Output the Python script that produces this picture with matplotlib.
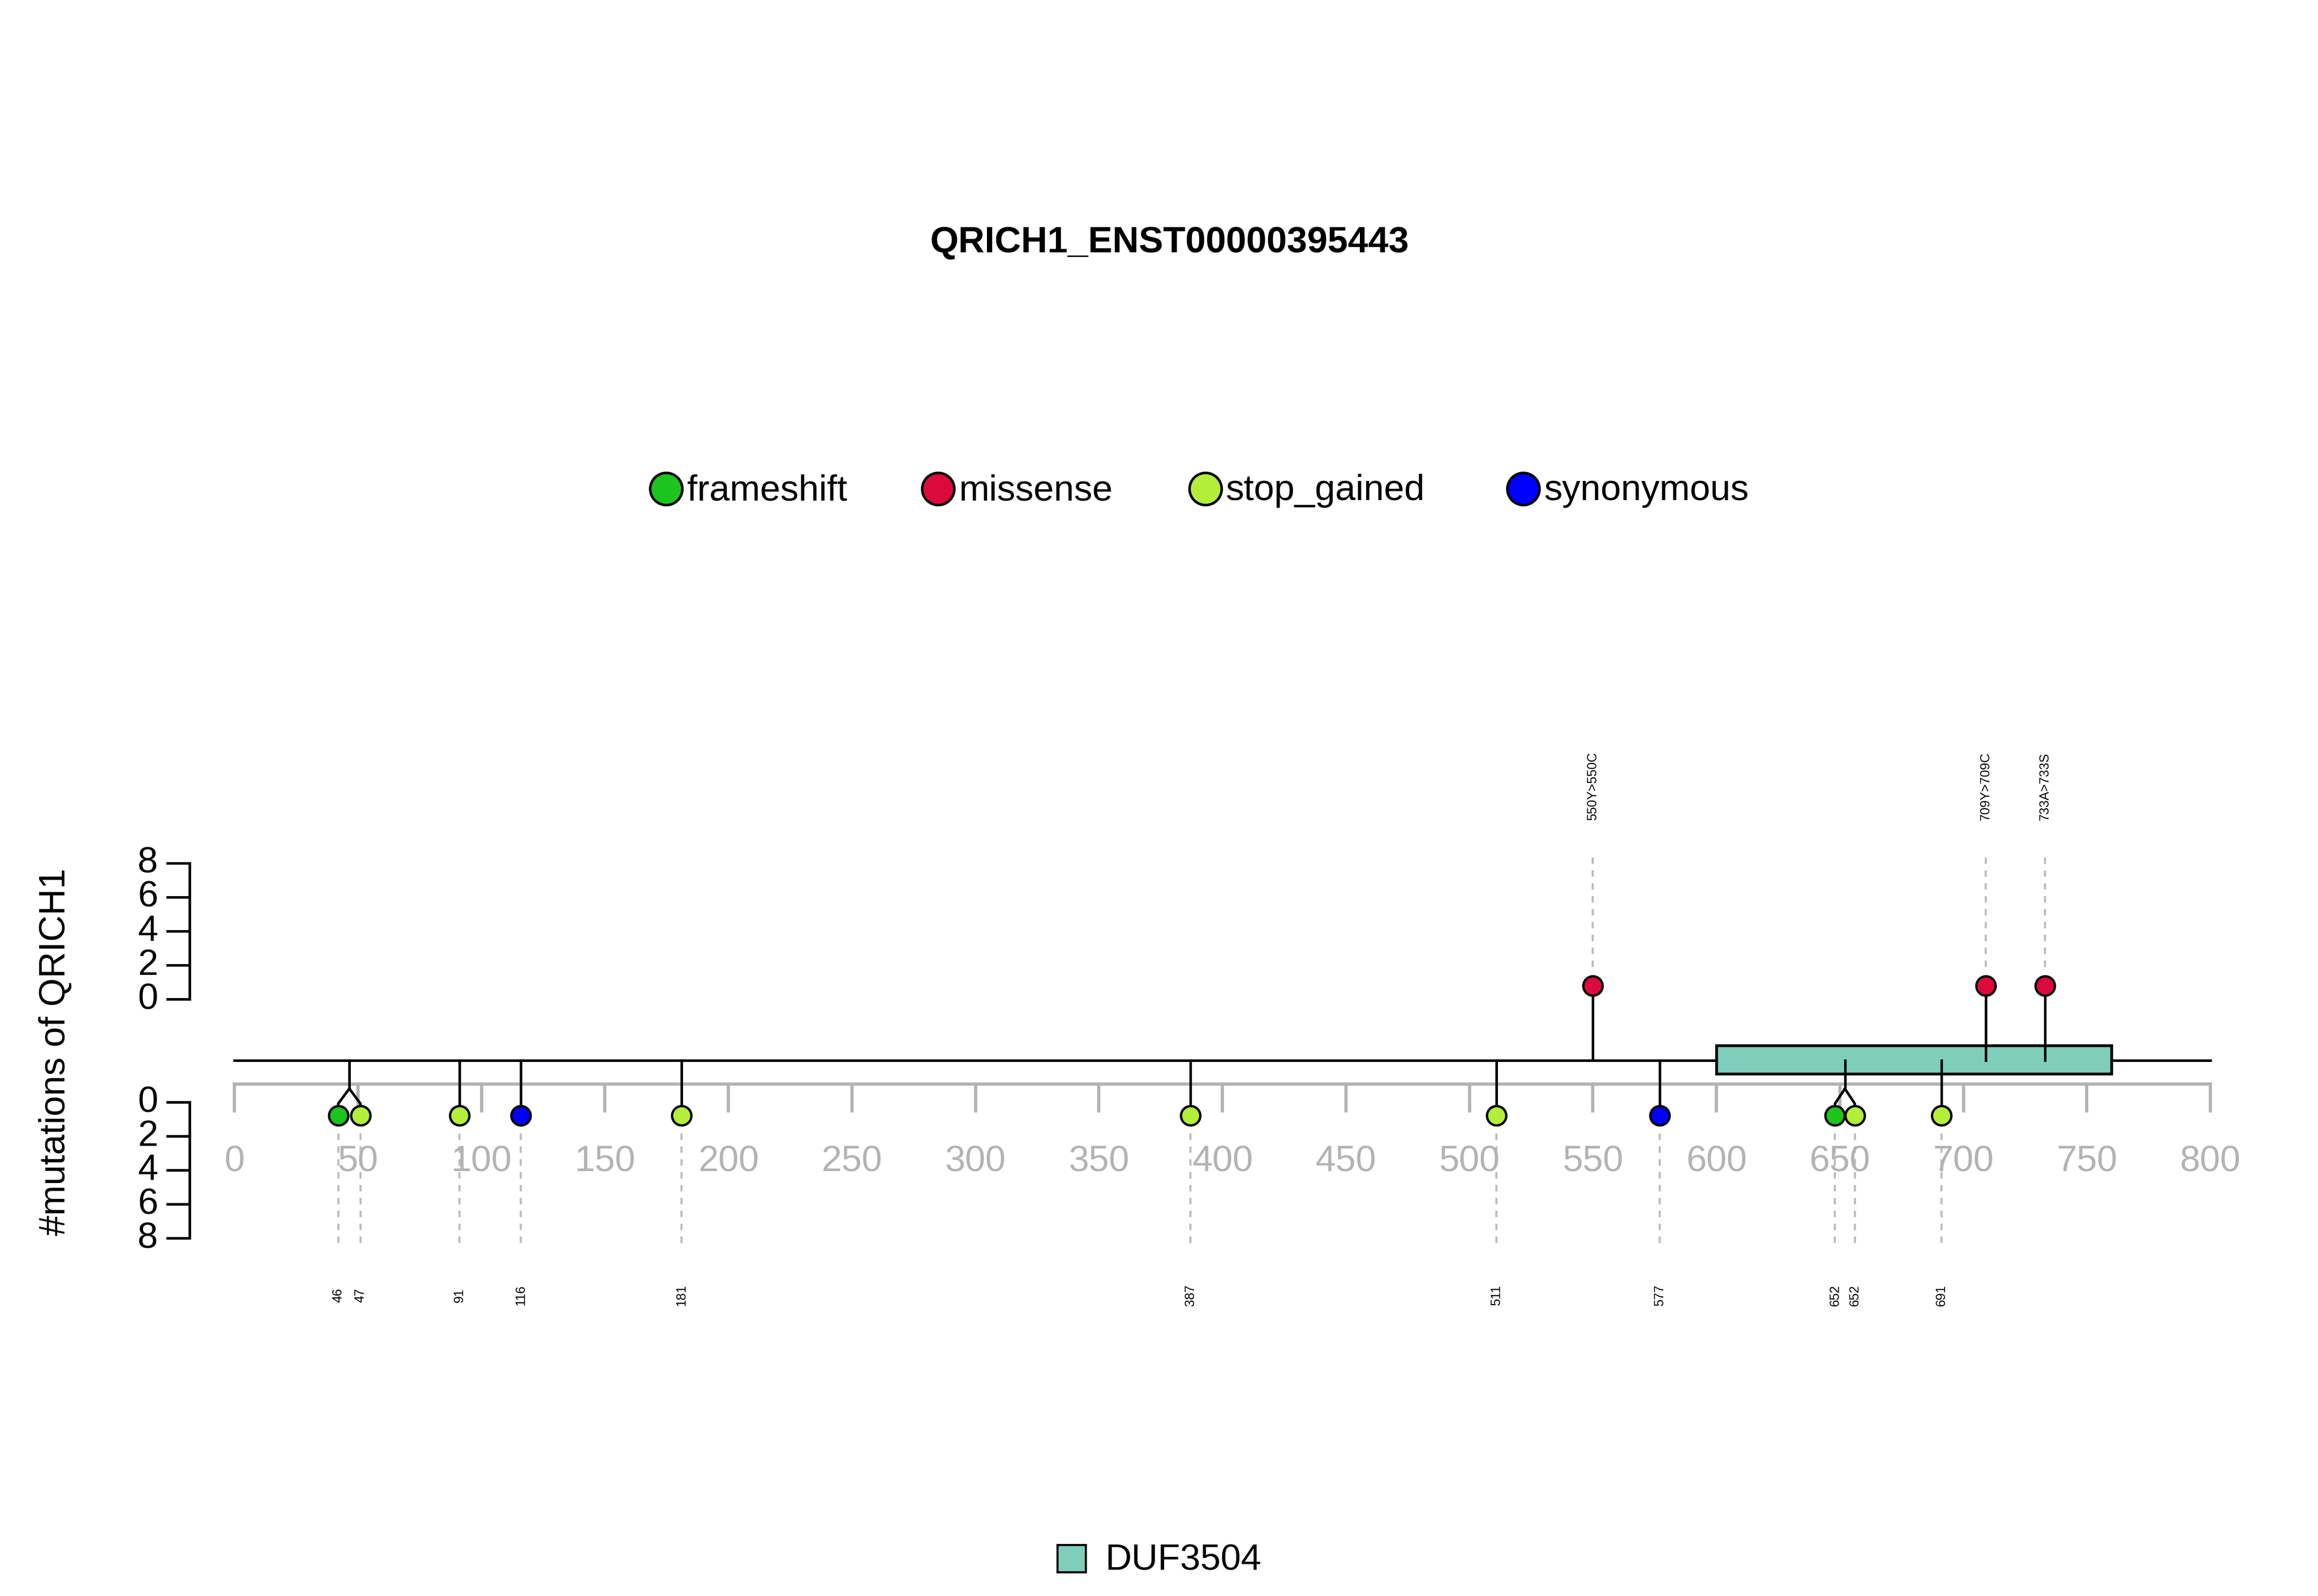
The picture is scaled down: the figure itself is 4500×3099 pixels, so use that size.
#!/usr/bin/env python3
# lollipop plot of QRICH1 mutations

import numpy as np
import matplotlib
matplotlib.use('Agg')
import matplotlib.pyplot as plt

plt.rcParams['font.family'] = ['Liberation Sans', 'DejaVu Sans']

title = 'QRICH1_ENST00000395443'
protein_len = 800
x_ticks = [0, 50, 100, 150, 200, 250, 300, 350, 400, 450, 500, 550, 600, 650, 700, 750, 800]

mut_types = ['frameshift', 'missense', 'stop_gained', 'synonymous']
mut_colors = {'frameshift': '#1DC41D', 'missense': '#DC0A3C',
              'stop_gained': '#B3EE3A', 'synonymous': '#0000FF'}

# missense on top
up_pos = [550, 709, 733]
up_labels = ['550Y>550C', '709Y>709C', '733A>733S']

# others below: position, type, drawn position (spread for clusters)
down_pos = [46, 47, 91, 116, 181, 387, 511, 577, 652, 652, 691]
down_type = ['frameshift', 'stop_gained', 'stop_gained', 'synonymous', 'stop_gained',
             'stop_gained', 'stop_gained', 'synonymous', 'frameshift', 'stop_gained', 'stop_gained']
down_draw = [42, 51, 91, 116, 181, 387, 511, 577, 648, 656, 691]

domain_name = 'DUF3504'
domain_start, domain_end = 600, 760
domain_color = '#7FCDBB'

y_ticks = [0, 2, 4, 6, 8]

# layout (in reference pixel rows, 0..1070 from top)
px_per_aa = (1480 - 157) / 800.0
fig = plt.figure(figsize=(15, 10.3333), dpi=300)
ax = fig.add_axes([0, 0, 1, 1])
ax.set_xlim(-157 / px_per_aa, (1552 - 157) / px_per_aa)
ax.set_ylim(1070, 0)
ax.axis('off')

ax.text(400 - 27 / px_per_aa * 0, 163, title, ha='center', va='center',
        fontsize=17, fontweight='bold')
ax.texts[-1].set_x((783 - 157) / px_per_aa)

# legend
leg_x = [446, 628, 807, 1020]
for t, lx in zip(mut_types, leg_x):
    xx = (lx - 157) / px_per_aa
    ax.plot(xx, 328, 'o', ms=15, mfc=mut_colors[t], mec='black', mew=1.2)
    ax.text(xx + 14 / px_per_aa, 329, t, ha='left', va='center', fontsize=17)

# backbone and gray axis
bb_y = 711
ax.plot([0, protein_len], [bb_y, bb_y], color='black', lw=1.2, zorder=2)
ax.plot([0, protein_len], [727, 727], color='#B3B3B3', lw=1.5)
for t in x_ticks:
    ax.plot([t, t], [727, 745], color='#B3B3B3', lw=1.5)
    ax.text(t, 779, str(t), ha='center', va='center', fontsize=17, color='#B3B3B3')

# domain
ax.add_patch(plt.Rectangle((domain_start, 701), domain_end - domain_start, 19,
                           facecolor=domain_color, edgecolor='black', lw=1.3, zorder=3))

# upper lollipops
for p, lab in zip(up_pos, up_labels):
    ax.plot([p, p], [575, 650], color='#BDBDBD', ls=(0, (3, 3)), lw=1)
    ax.plot([p, p], [bb_y, 661], color='black', lw=1.2, zorder=4)
    ax.plot(p, 661, 'o', ms=9, mfc=mut_colors['missense'], mec='black', mew=1.1, zorder=5)
    ax.text(p, 550, lab, rotation=90, ha='center', va='bottom', fontsize=6)

# lower lollipops
groups = {}
for p, d in zip(down_pos, down_draw):
    groups.setdefault(p if p not in (46, 47) else 46.5, []).append(d)
for p, t, d in zip(down_pos, down_type, down_draw):
    ax.plot([d, d], [760, 835], color='#BDBDBD', ls=(0, (3, 3)), lw=1)
    ax.text(d, 868, str(p), rotation=90, ha='center', va='center', fontsize=6)
drawn = set()
for p, d in zip(down_pos, down_draw):
    key = 46.5 if p in (46, 47) else p
    ds = groups[key]
    if len(ds) == 1:
        ax.plot([d, d], [bb_y, 748], color='black', lw=1.2, zorder=4)
    else:
        c = np.mean(ds)
        if key not in drawn:
            ax.plot([c, c], [bb_y, 730], color='black', lw=1.2, zorder=4)
            drawn.add(key)
        ax.plot([c, d, d], [730, 740, 748], color='black', lw=1.2, zorder=4)
for t, d in zip(down_type, down_draw):
    ax.plot(d, 748, 'o', ms=9, mfc=mut_colors[t], mec='black', mew=1.1, zorder=5)

# left y axes
yax_x = (127 - 157) / px_per_aa
tick_len = 15 / px_per_aa
for top, sign in [(670, -1), (739, 1)]:
    ys = [top + sign * v * 11.4 for v in y_ticks]
    ax.plot([yax_x, yax_x], [ys[0], ys[-1]], color='black', lw=1.2)
    for v, yy in zip(y_ticks, ys):
        ax.plot([yax_x - tick_len, yax_x], [yy, yy], color='black', lw=1.2)
        ax.text(yax_x - 28 / px_per_aa, yy, str(v), ha='center', va='center', fontsize=17)
ax.text((37 - 157) / px_per_aa, 705, '#mutations of QRICH1', rotation=90,
        ha='center', va='center', fontsize=17)

# domain legend
ax.add_patch(plt.Rectangle(((708 - 157) / px_per_aa, 1036), 19 / px_per_aa, 18,
                           facecolor=domain_color, edgecolor='black', lw=1))
ax.text((740 - 157) / px_per_aa, 1046, domain_name, ha='left', va='center', fontsize=17)

fig.savefig('out.png', dpi=300)
